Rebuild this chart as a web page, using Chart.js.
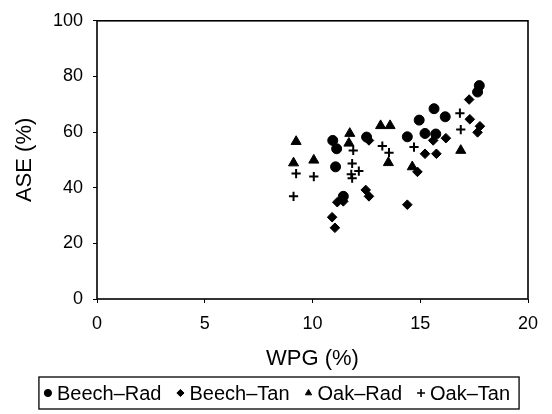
<!DOCTYPE html>
<html lang="en">
<head>
<meta charset="UTF-8">
<title>ASE vs WPG</title>
<script src="https://cdn.jsdelivr.net/npm/chart.js"></script>
<style>
    body { margin: 0; background: #fff; }
    canvas { display: block; }
</style>
</head>
<body>
<canvas id="aseChart" width="552" height="414"></canvas>
<script>
    // Values (WPG %, ASE %)
    const beechRadX = [10.94, 11.12, 11.07, 11.43, 12.51, 14.40, 14.95, 15.22, 15.64, 15.72, 16.16, 17.74, 17.66];
    const beechRadY = [57.0, 54.0, 47.5, 36.9, 58.2, 58.3, 64.3, 59.5, 68.4, 59.3, 65.5, 76.7, 74.4];

    const beechTanX = [10.91, 11.04, 11.15, 11.43, 12.47, 12.62, 12.62, 14.40, 14.87, 15.22, 15.60, 15.75, 16.19, 17.27, 17.30, 17.77, 17.66];
    const beechTanY = [29.4, 25.6, 34.8, 35.1, 39.2, 36.9, 57.0, 33.9, 45.7, 52.2, 57.0, 52.2, 57.8, 71.7, 64.6, 62.1, 59.9];

    const oakRadX = [9.12, 9.24, 10.06, 11.69, 11.73, 13.16, 13.52, 13.60, 14.63, 16.88];
    const oakRadY = [48.9, 56.6, 49.9, 56.0, 59.5, 62.3, 49.0, 62.3, 47.5, 53.4];

    const oakTanX = [9.12, 9.24, 10.06, 11.80, 11.84, 11.84, 11.89, 12.15, 13.24, 13.55, 14.71, 16.84, 16.88];
    const oakTanY = [36.9, 45.1, 44.0, 44.8, 43.4, 48.7, 53.4, 46.0, 55.0, 52.6, 54.6, 66.8, 60.9];

    const seriesNames = ['Beech\u2013Rad', 'Beech\u2013Tan', 'Oak\u2013Rad', 'Oak\u2013Tan'];
    const xTicks = [0, 5, 10, 15, 20];
    const yTicks = [0, 20, 40, 60, 80, 100];

    const FONT = '"Liberation Sans", Arial, Helvetica, sans-serif';

    function pairs(xs, ys) {
        return xs.map((x, i) => ({ x: x, y: ys[i] }));
    }

    // box round the plot area
    const frame = {
        id: 'frame',
        afterDatasetsDraw(chart) {
            const a = chart.chartArea;
            const ctx = chart.ctx;
            ctx.save();
            ctx.strokeStyle = '#000';
            ctx.lineWidth = 1.6;
            ctx.strokeRect(a.left, a.top, a.right - a.left, a.bottom - a.top);
            ctx.restore();
        }
    };

    // boxed legend below the axis title
    const boxedLegend = {
        id: 'boxedLegend',
        afterDraw(chart) {
            const ctx = chart.ctx;
            const sets = chart.data.datasets;
            const textGap = 9, itemGap = 19, cy = 393;
            ctx.save();
            ctx.font = '20px ' + FONT;
            const widths = sets.map(ds => ctx.measureText(ds.label).width);
            let total = 0;
            widths.forEach((w, i) => { total += textGap + w + (i < widths.length - 1 ? itemGap : 0); });
            let x = chart.width / 2 - total / 2 + 3;
            const startX = x;
            ctx.textBaseline = 'middle';
            sets.forEach((ds, i) => {
                const opts = { pointStyle: ds.pointStyle, radius: ds.pointStyle === 'cross' ? 4 : 3.6, borderWidth: ds.pointStyle === 'cross' ? 1.6 : 1 };
                ctx.fillStyle = '#000';
                ctx.strokeStyle = '#000';
                ctx.lineWidth = opts.borderWidth;
                Chart.helpers.drawPoint(ctx, opts, x, cy);
                ctx.fillStyle = '#000';
                ctx.fillText(ds.label, x + textGap, cy + 1);
                x += textGap + widths[i] + itemGap;
            });
            ctx.lineWidth = 1.3;
            ctx.strokeRect(startX - 9, cy - 16, total + 18, 32);
            ctx.restore();
        }
    };

    const markerStyles = ['circle', 'rectRot', 'triangle', 'cross'];
    const markerRadius = [5, 4.8, 5.8, 4.6];
    const seriesData = [
        pairs(beechRadX, beechRadY),
        pairs(beechTanX, beechTanY),
        pairs(oakRadX, oakRadY),
        pairs(oakTanX, oakTanY)
    ];

    new Chart(document.getElementById('aseChart'), {
        type: 'scatter',
        data: {
            datasets: seriesNames.map((name, i) => ({
                label: name,
                data: seriesData[i],
                pointStyle: markerStyles[i],
                pointRadius: markerRadius[i],
                pointBackgroundColor: '#000',
                pointBorderColor: '#000',
                pointBorderWidth: markerStyles[i] === 'cross' ? 2 : 1
            }))
        },
        options: {
            responsive: false,
            animation: false,
            layout: { padding: { top: 17, right: 24, bottom: 42, left: 12 } },
            plugins: {
                legend: { display: false },
                tooltip: { enabled: false }
            },
            scales: {
                x: {
                    type: 'linear',
                    min: 0,
                    max: 20,
                    afterBuildTicks: s => { s.ticks = xTicks.map(v => ({ value: v })); },
                    afterFit: s => { s.height = 73; },
                    border: { display: false },
                    grid: { drawOnChartArea: false, color: '#000', tickLength: 4, lineWidth: 1 },
                    ticks: { color: '#000', font: { family: FONT, size: 18 }, padding: 10, maxRotation: 0 },
                    title: { display: true, text: 'WPG (%)', color: '#000', font: { family: FONT, size: 22 }, padding: 0 }
                },
                y: {
                    min: 0,
                    max: 100,
                    afterBuildTicks: s => { s.ticks = yTicks.map(v => ({ value: v })); },
                    afterFit: s => { s.width = 85; },
                    border: { display: false },
                    grid: { drawOnChartArea: false, color: '#000', tickLength: 4, lineWidth: 1 },
                    ticks: { color: '#000', font: { family: FONT, size: 18 }, padding: 10 },
                    title: { display: true, text: 'ASE (%)', color: '#000', font: { family: FONT, size: 22 }, padding: 0 }
                }
            }
        },
        plugins: [frame, boxedLegend]
    });
</script>
</body>
</html>
